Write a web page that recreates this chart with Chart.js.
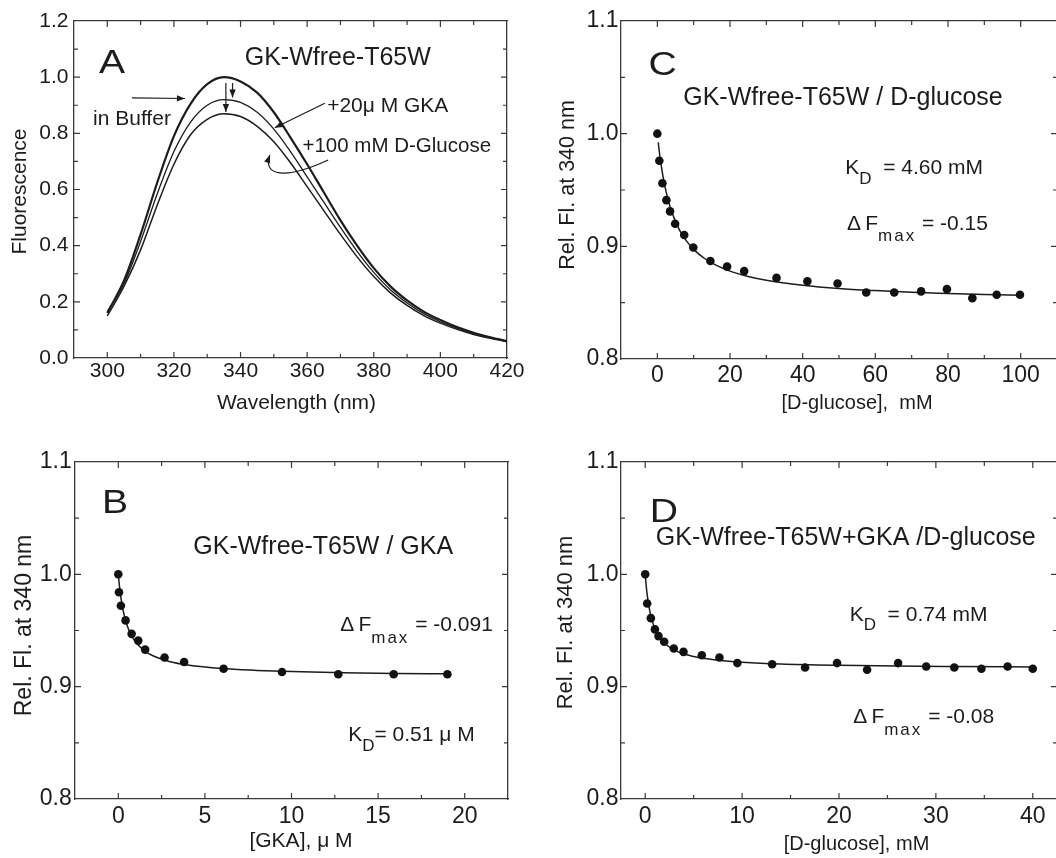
<!DOCTYPE html>
<html>
<head>
<meta charset="utf-8">
<title>GK-Wfree-T65W fluorescence titrations</title>
<script src="https://cdn.jsdelivr.net/npm/chart.js@4.4.1/dist/chart.umd.min.js"></script>
<style>
  html, body { margin: 0; padding: 0; width: 1056px; height: 858px; overflow: hidden; background: #ffffff; }
  canvas { position: absolute; display: block; }
</style>
</head>
<body>
<canvas id="panelA" width="530" height="425" style="left:0px;top:0px;width:530px;height:425px"></canvas>
<canvas id="panelC" width="545" height="425" style="left:530px;top:0px;width:545px;height:425px"></canvas>
<canvas id="panelB" width="530" height="433" style="left:0px;top:425px;width:530px;height:433px"></canvas>
<canvas id="panelD" width="545" height="433" style="left:530px;top:425px;width:545px;height:433px"></canvas>
<script>
// ---------- Panel A: emission spectra ----------
const wavelengthNm = [300, 305, 310, 315, 320, 325, 330, 335, 340, 345, 350, 355, 360,
                      365, 370, 375, 380, 385, 390, 395, 400, 405, 410, 415, 420];
const fluorBuffer = [0.160, 0.275, 0.440, 0.625, 0.790, 0.905, 0.975, 1.000, 0.985, 0.945, 0.875, 0.785, 0.690,
                     0.590, 0.490, 0.400, 0.320, 0.255, 0.205, 0.165, 0.135, 0.110, 0.090, 0.074, 0.060];
const fluorGKA = [0.165, 0.265, 0.415, 0.585, 0.735, 0.840, 0.900, 0.920, 0.910, 0.875, 0.815, 0.735, 0.645,
                  0.555, 0.465, 0.380, 0.305, 0.243, 0.196, 0.158, 0.129, 0.106, 0.087, 0.072, 0.059];
const fluorGKAGlucose = [0.150, 0.255, 0.385, 0.545, 0.690, 0.795, 0.850, 0.870, 0.860, 0.825, 0.770, 0.695, 0.610,
                         0.525, 0.440, 0.360, 0.290, 0.232, 0.187, 0.151, 0.124, 0.102, 0.084, 0.070, 0.058];

// ---------- Panel B: GKA titration ----------
const gkaConcUM = [0, 0.04, 0.15, 0.42, 0.77, 1.15, 1.55, 2.67, 3.80, 6.08, 9.45, 12.7, 15.9, 19.0];
const gkaRelFl  = [1.000, 0.984, 0.972, 0.959, 0.947, 0.941, 0.933, 0.926, 0.922, 0.916, 0.913, 0.911, 0.911, 0.911];
const gkaKd = '0.51', gkaDFmax = '-0.091';
const gkaFitConc  = [0, 0.05, 0.1, 0.2, 0.35, 0.5, 0.75, 1.0, 1.5, 2, 3, 4, 6, 8, 10, 13, 16, 19];
const gkaFitRelFl = [1.0000, 0.9919, 0.9851, 0.9744, 0.9630, 0.9550, 0.9458, 0.9397, 0.9321, 0.9275,
                     0.9222, 0.9193, 0.9161, 0.9145, 0.9134, 0.9124, 0.9118, 0.9114];

// ---------- Panel C: D-glucose titration ----------
const glcConcMM = [0, 0.55, 1.4, 2.5, 3.5, 4.9, 7.4, 9.9, 14.6, 19.2, 23.9, 32.8, 41.3, 49.6,
                   57.5, 65.2, 72.6, 79.7, 86.7, 93.4, 99.8];
const glcRelFl  = [1.000, 0.976, 0.956, 0.941, 0.931, 0.920, 0.910, 0.899, 0.887, 0.882, 0.878, 0.872, 0.869, 0.867,
                   0.859, 0.859, 0.860, 0.862, 0.854, 0.857, 0.857];
const glcKd = '4.60', glcDFmax = '-0.15';
const glcFitConc  = [0.25, 0.5, 1, 2, 3, 4, 6, 8, 10, 13, 16, 20, 25, 30, 40, 50, 60, 70, 80, 90, 100];
const glcFitRelFl = [0.9923, 0.9853, 0.9732, 0.9545, 0.9408, 0.9302, 0.9151, 0.9048, 0.8973, 0.8892, 0.8835,
                     0.8780, 0.8733, 0.8699, 0.8655, 0.8626, 0.8607, 0.8592, 0.8582, 0.8573, 0.8566];

// ---------- Panel D: D-glucose titration in presence of GKA ----------
const glcGkaConcMM = [0, 0.2, 0.58, 1.0, 1.37, 1.96, 2.95, 3.95, 5.84, 7.66, 9.51, 13.1, 16.5, 19.8,
                      22.9, 26.1, 29.0, 31.9, 34.7, 37.4, 40.0];
const glcGkaRelFl  = [1.000, 0.974, 0.961, 0.951, 0.945, 0.940, 0.934, 0.931, 0.928, 0.926, 0.921, 0.920, 0.917, 0.921,
                      0.915, 0.921, 0.918, 0.917, 0.916, 0.918, 0.916];
const glcGkaKd = '0.74', glcGkaDFmax = '-0.08';
const glcGkaFitConc  = [0, 0.1, 0.25, 0.5, 0.75, 1.0, 1.5, 2, 3, 4, 6, 8, 10, 14, 20, 26, 32, 40];
const glcGkaFitRelFl = [1.0000, 0.9900, 0.9788, 0.9661, 0.9577, 0.9517, 0.9437, 0.9387, 0.9326, 0.9291,
                        0.9252, 0.9231, 0.9218, 0.9202, 0.9190, 0.9183, 0.9179, 0.9175];

// ---------- shared styling ----------
const FAMILY = '"Liberation Sans", Arial, Helvetica, sans-serif';
const INK = '#1c1c1c';
const FRAME = '#3a3a3a';
Chart.defaults.font.family = FAMILY;
Chart.defaults.color = INK;

const pairs = (xs, ys) => xs.map((x, i) => ({ x, y: ys[i] }));
const onStep = (v, every) => Math.abs(v / every - Math.round(v / every)) < 1e-6;

// Tick values on every multiple of the step that falls inside [min, max].
function stepValues(min, max, step) {
  const out = [];
  for (let k = Math.ceil(min / step - 1e-9); k * step <= max + 1e-9; k++) {
    out.push(Math.round(k * step * 1e6) / 1e6);
  }
  return out;
}

// Boxed axes: labelled bottom/left scales plus unlabelled top/right mirrors.
function boxedScales(s) {
  const grid = { display: false, drawOnChartArea: false, drawTicks: false };
  const border = { display: true, color: FRAME, width: 1.3 };
  const xBuild = sc => { sc.ticks = stepValues(s.xMin, s.xMax, s.xStep).map(value => ({ value })); };
  const yBuild = sc => { sc.ticks = stepValues(s.yMin, s.yMax, s.yStep).map(value => ({ value })); };
  return {
    x: {
      type: 'linear', position: 'bottom', min: s.xMin, max: s.xMax, grid, border,
      afterBuildTicks: xBuild,
      ticks: {
        autoSkip: false, maxRotation: 0, padding: s.xPad, color: INK, font: { size: s.tickSize },
        callback: v => onStep(v, s.xLabelEvery) ? String(Math.round(v)) : ''
      },
      afterFit: sc => { sc.height = s.xHeight; }
    },
    x2: {
      type: 'linear', position: 'top', min: s.xMin, max: s.xMax, grid, border,
      afterBuildTicks: xBuild, ticks: { display: false },
      afterFit: sc => { sc.height = 0; }
    },
    y: {
      type: 'linear', position: 'left', min: s.yMin, max: s.yMax, grid, border,
      afterBuildTicks: yBuild,
      ticks: {
        autoSkip: false, padding: s.yPad, color: INK, font: { size: s.tickSize },
        callback: v => onStep(v, s.yLabelEvery) ? v.toFixed(1) : ''
      },
      afterFit: sc => { sc.width = s.yWidth; }
    },
    y2: {
      type: 'linear', position: 'right', min: s.yMin, max: s.yMax, grid, border,
      afterBuildTicks: yBuild, ticks: { display: false },
      afterFit: sc => { sc.width = 0; }
    }
  };
}

// Inward tick marks on all four sides, long on labelled values, short between them.
const inwardTicks = {
  id: 'inwardTicks',
  afterDraw(chart, args, opts) {
    const { ctx, chartArea: ca, scales } = chart;
    ctx.save();
    ctx.strokeStyle = FRAME;
    ctx.lineWidth = 1.2;
    ctx.beginPath();
    const sides = [
      ['x', ca.bottom, -1, opts.xEvery], ['x2', ca.top, 1, opts.xEvery],
      ['y', ca.left, 1, opts.yEvery], ['y2', ca.right, -1, opts.yEvery]
    ];
    for (const [id, edge, dir, every] of sides) {
      const sc = scales[id];
      const horizontal = sc.isHorizontal();
      for (const t of sc.ticks) {
        const p = sc.getPixelForValue(t.value);
        const len = onStep(t.value, every) ? 6 : 4;
        if (horizontal) {
          if (p <= ca.left + 1 || p >= ca.right - 1) continue;
          ctx.moveTo(p, edge);
          ctx.lineTo(p, edge + dir * len);
        } else {
          if (p <= ca.top + 1 || p >= ca.bottom - 1) continue;
          ctx.moveTo(edge, p);
          ctx.lineTo(edge + dir * len, p);
        }
      }
    }
    ctx.stroke();
    ctx.restore();
  }
};

function arrowHead(ctx, x, y, ang) {
  const len = 8, half = 3.2;
  ctx.beginPath();
  ctx.moveTo(x, y);
  ctx.lineTo(x - len * Math.cos(ang) + half * Math.sin(ang), y - len * Math.sin(ang) - half * Math.cos(ang));
  ctx.lineTo(x - len * Math.cos(ang) - half * Math.sin(ang), y - len * Math.sin(ang) + half * Math.cos(ang));
  ctx.closePath();
  ctx.fill();
}

function drawRich(ctx, x, y, parts) {
  let cx = x;
  ctx.textAlign = 'left';
  ctx.textBaseline = 'middle';
  for (const p of parts) {
    ctx.font = `${p.size}px ${FAMILY}`;
    ctx.letterSpacing = (p.spacing || 0) + 'px';
    ctx.fillText(p.t, cx, y + (p.dy || 0));
    cx += ctx.measureText(p.t).width;
  }
  ctx.letterSpacing = '0px';
}

// Axis captions, panel letters, annotations and arrows, positioned in data units.
const panelNotes = {
  id: 'panelNotes',
  afterDraw(chart, args, opts) {
    const { ctx, chartArea: ca, scales } = chart;
    const X = v => scales.x.getPixelForValue(v);
    const Y = v => scales.y.getPixelForValue(v);
    ctx.save();
    ctx.fillStyle = INK;
    ctx.strokeStyle = INK;

    const xt = opts.xTitle;
    if (xt) {
      ctx.font = `${xt.size}px ${FAMILY}`;
      ctx.textAlign = 'center';
      ctx.textBaseline = 'middle';
      ctx.fillText(xt.text, (ca.left + ca.right) / 2 + xt.dx, ca.bottom + xt.dy);
    }
    const yt = opts.yTitle;
    if (yt) {
      ctx.save();
      ctx.translate(ca.left - yt.dx, (ca.top + ca.bottom) / 2 + yt.dy);
      ctx.rotate(-Math.PI / 2);
      ctx.font = `${yt.size}px ${FAMILY}`;
      ctx.textAlign = 'center';
      ctx.textBaseline = 'middle';
      ctx.fillText(yt.text, 0, 0);
      ctx.restore();
    }

    for (const n of opts.items || []) {
      if (n.kind === 'letter') {
        ctx.save();
        ctx.translate(X(n.x), Y(n.y));
        ctx.scale(1.15, 1);
        ctx.font = `${n.size}px ${FAMILY}`;
        ctx.textAlign = 'center';
        ctx.textBaseline = 'middle';
        ctx.fillText(n.text, 0, 0);
        ctx.restore();
      } else if (n.kind === 'text') {
        ctx.font = `${n.size}px ${FAMILY}`;
        ctx.textAlign = 'center';
        ctx.textBaseline = 'middle';
        ctx.fillText(n.text, X(n.x), Y(n.y));
      } else if (n.kind === 'rich') {
        drawRich(ctx, X(n.x), Y(n.y), n.parts);
      } else if (n.kind === 'arrow') {
        const x1 = X(n.from[0]), y1 = Y(n.from[1]), x2 = X(n.to[0]), y2 = Y(n.to[1]);
        ctx.lineWidth = 1.2;
        ctx.beginPath();
        ctx.moveTo(x1, y1);
        ctx.lineTo(x2, y2);
        ctx.stroke();
        arrowHead(ctx, x2, y2, Math.atan2(y2 - y1, x2 - x1));
      } else if (n.kind === 'curve') {
        const p = n.pts.map(q => [X(q[0]), Y(q[1])]);
        ctx.lineWidth = 1.2;
        ctx.beginPath();
        ctx.moveTo(p[0][0], p[0][1]);
        ctx.bezierCurveTo(p[1][0], p[1][1], p[2][0], p[2][1], p[3][0], p[3][1]);
        ctx.stroke();
        arrowHead(ctx, p[3][0], p[3][1], Math.atan2(p[3][1] - p[2][1], p[3][0] - p[2][0]));
      }
    }
    ctx.restore();
  }
};

function makeChart(id, datasets, scaleSpec, padding, notes) {
  return new Chart(document.getElementById(id), {
    type: 'line',
    data: { datasets },
    options: {
      responsive: false,
      animation: false,
      events: [],
      layout: { padding },
      plugins: {
        legend: { display: false },
        tooltip: { enabled: false },
        panelNotes: notes,
        inwardTicks: { xEvery: scaleSpec.xLabelEvery, yEvery: scaleSpec.yLabelEvery }
      },
      scales: boxedScales(scaleSpec)
    },
    plugins: [inwardTicks, panelNotes]
  });
}

const spectrum = (ys, w) => ({
  data: pairs(wavelengthNm, ys), borderColor: INK, borderWidth: w, pointRadius: 0,
  cubicInterpolationMode: 'monotone', fill: false
});
const dots = (xs, ys) => ({
  data: pairs(xs, ys), showLine: false, pointRadius: 4.3, pointBackgroundColor: '#111111',
  pointBorderColor: '#111111', pointBorderWidth: 0
});
const fitLine = (xs, ys) => ({
  data: pairs(xs, ys), borderColor: INK, borderWidth: 1.5, pointRadius: 0,
  cubicInterpolationMode: 'monotone', fill: false
});

const kdParts = (kd, unit, size, sub, gap) => [
  { t: 'K', size }, { t: 'D', size: sub, dy: 11 }, { t: gap + '= ' + kd + ' ' + unit, size }
];
const dfParts = (df, size, sub) => [
  { t: 'Δ\u2009F', size }, { t: 'max', size: sub, dy: 13, spacing: 2 }, { t: ' = ' + df, size }
];

// Panel A
makeChart('panelA',
  [spectrum(fluorBuffer, 2.2), spectrum(fluorGKA, 1.3), spectrum(fluorGKAGlucose, 1.5)],
  { xMin: 290, xMax: 420, xStep: 10, xLabelEvery: 20, yMin: 0, yMax: 1.2, yStep: 0.1, yLabelEvery: 0.2,
    tickSize: 21, xPad: 0.5, yPad: 5.5, yWidth: 74, xHeight: 67 },
  { left: 0, top: 21, right: 23, bottom: 0 },
  {
    xTitle: { text: 'Wavelength (nm)', size: 21, dx: 6, dy: 45 },
    yTitle: { text: 'Fluorescence', size: 21, dx: 54, dy: 2 },
    items: [
      { kind: 'letter', text: 'A', x: 301.4, y: 1.05, size: 34 },
      { kind: 'text', text: 'GK-Wfree-T65W', x: 369.2, y: 1.068, size: 25 },
      { kind: 'text', text: 'in Buffer', x: 307.4, y: 0.851, size: 21 },
      { kind: 'arrow', from: [307.4, 0.926], to: [323.3, 0.924] },
      { kind: 'text', text: '+20μ M GKA', x: 384.2, y: 0.897, size: 21 },
      { kind: 'arrow', from: [365.3, 0.907], to: [350.3, 0.820] },
      { kind: 'text', text: '+100 mM D-Glucose', x: 386.9, y: 0.755, size: 20.5 },
      { kind: 'curve', pts: [[366.3, 0.705], [353.4, 0.634], [346.5, 0.648], [348.8, 0.723]] },
      { kind: 'arrow', from: [335.6, 0.979], to: [335.6, 0.876] },
      { kind: 'arrow', from: [337.6, 0.979], to: [337.6, 0.928] }
    ]
  });

// Panel C
makeChart('panelC',
  [dots(glcConcMM, glcRelFl), fitLine(glcFitConc, glcFitRelFl)],
  { xMin: -10, xMax: 110, xStep: 10, xLabelEvery: 20, yMin: 0.8, yMax: 1.1, yStep: 0.05, yLabelEvery: 0.1,
    tickSize: 23, xPad: 2.5, yPad: 2.5, yWidth: 91, xHeight: 66 },
  { left: 0, top: 21, right: 18, bottom: 0 },
  {
    xTitle: { text: '[D-glucose],  mM', size: 20, dx: 18, dy: 44 },
    yTitle: { text: 'Rel. Fl. at 340 nm', size: 21.5, dx: 53, dy: -5 },
    items: [
      { kind: 'letter', text: 'C', x: 1.45, y: 1.0606, size: 34 },
      { kind: 'text', text: 'GK-Wfree-T65W / D-glucose', x: 51.1, y: 1.032, size: 25 },
      { kind: 'rich', x: 51.7, y: 0.969, parts: kdParts(glcKd, 'mM', 21, 17, '  ') },
      { kind: 'rich', x: 52.2, y: 0.920, parts: dfParts(glcDFmax, 21, 17) }
    ]
  });

// Panel B
makeChart('panelB',
  [dots(gkaConcUM, gkaRelFl), fitLine(gkaFitConc, gkaFitRelFl)],
  { xMin: -2.5, xMax: 22.5, xStep: 2.5, xLabelEvery: 5, yMin: 0.8, yMax: 1.1, yStep: 0.05, yLabelEvery: 0.1,
    tickSize: 23, xPad: 3.5, yPad: 3.3, yWidth: 75, xHeight: 59 },
  { left: 0, top: 37, right: 22, bottom: 0 },
  {
    xTitle: { text: '[GKA], μ M', size: 21, dx: 9.5, dy: 42 },
    yTitle: { text: 'Rel. Fl. at 340 nm', size: 23, dx: 50, dy: -5 },
    items: [
      { kind: 'letter', text: 'B', x: -0.19, y: 1.063, size: 34 },
      { kind: 'text', text: 'GK-Wfree-T65W / GKA', x: 11.83, y: 1.0243, size: 25 },
      { kind: 'rich', x: 12.81, y: 0.955, parts: dfParts(gkaDFmax, 21, 17) },
      { kind: 'rich', x: 13.27, y: 0.857, parts: kdParts(gkaKd, 'μ M', 21, 17, '') }
    ]
  });

// Panel D
makeChart('panelD',
  [dots(glcGkaConcMM, glcGkaRelFl), fitLine(glcGkaFitConc, glcGkaFitRelFl)],
  { xMin: -2.5, xMax: 42.5, xStep: 5, xLabelEvery: 10, yMin: 0.8, yMax: 1.1, yStep: 0.05, yLabelEvery: 0.1,
    tickSize: 23, xPad: 3.5, yPad: 2.5, yWidth: 91, xHeight: 59 },
  { left: 0, top: 37, right: 18, bottom: 0 },
  {
    xTitle: { text: '[D-glucose], mM', size: 20, dx: 17.5, dy: 45 },
    yTitle: { text: 'Rel. Fl. at 340 nm', size: 22, dx: 55, dy: -8 },
    items: [
      { kind: 'letter', text: 'D', x: 1.93, y: 1.055, size: 34 },
      { kind: 'text', text: 'GK-Wfree-T65W+GKA /D-glucose', x: 20.7, y: 1.032, size: 25 },
      { kind: 'rich', x: 21.1, y: 0.964, parts: kdParts(glcGkaKd, 'mM', 21, 17, '  ') },
      { kind: 'rich', x: 21.46, y: 0.873, parts: dfParts(glcGkaDFmax, 21, 17) }
    ]
  });
</script>
</body>
</html>
